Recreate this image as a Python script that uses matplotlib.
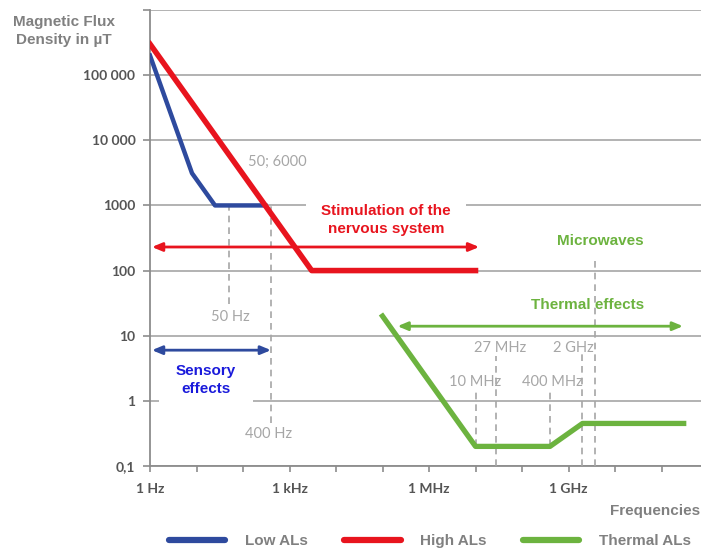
import numpy as np
import matplotlib
matplotlib.use("Agg")
import matplotlib.pyplot as plt
from matplotlib.lines import Line2D

# exposure limits (frequency in Hz, flux density in uT)
freq_low = [1, 8, 25, 300]
b_low = [2e5, 3125, 1000, 1000]
freq_high = [1, 3000, 1e7]
b_high = [3e5, 100, 100]
freq_th = [1e5, 1e7, 4e8, 2e9, 3e11]
b_th = [20, 0.2, 0.2, 0.45, 0.45]

# dashed markers: frequency, lower / upper end
dash_f = [50, 400, 1e7, 2.7e7, 4e8, 2e9, 3.7e9]
dash_lo = [31, 0.46, 0.2, 0.1, 0.2, 0.1, 0.1]
dash_hi = [1000, 1000, 1.6, 4.8, 1.6, 5.5, 160]

# gray marker labels: text, frequency, value
mark_txt = ["50 Hz", "400 Hz", "50; 6000", "10 MHz", "27 MHz", "400 MHz", "2 GHz"]
mark_f = [10**1.72, 10**2.54, 10**2.73, 10**6.99, 10**7.53, 10**8.65, 10**9.10]
mark_b = [10**1.284, 10**-0.506, 10**3.676, 10**0.296, 10**0.806, 10**0.296, 10**0.806]

yticks = [0.1, 1, 10, 100, 1000, 1e4, 1e5, 1e6]
ytick_labels = ["0,1", "1", "10", "100", "1000", "10 000", "100 000", ""]
xticks = [10**k for k in range(12)]
xtick_labels = {0: "1 Hz", 3: "1 kHz", 6: "1 MHz", 9: "1 GHz"}

BLUE = "#2E4A9E"
RED = "#E8141E"
GREEN = "#6CB33F"
GRAY = "#8c8c8c"
LGRAY = "#a6a6a6"
BOLD = "Liberation Sans"

fig = plt.figure(figsize=(7.01, 5.53), dpi=100)
ax = fig.add_axes([150/701, 1-466/553, 551/701, 456/553])
ax.set_xscale("log")
ax.set_yscale("log")
ax.set_xlim(1, 10**(551/46.5))
ax.set_ylim(0.1, 1e6)

ax.set_axisbelow(True)
ax.yaxis.grid(True, which="major", color=LGRAY, lw=1.2)
ax.xaxis.grid(False)
for s in ["top", "right"]:
    ax.spines[s].set_visible(False)
for s in ["left", "bottom"]:
    ax.spines[s].set_color(GRAY)
    ax.spines[s].set_linewidth(1.3)

ax.set_yticks(yticks)
ax.set_yticklabels(ytick_labels)
ax.yaxis.set_minor_locator(matplotlib.ticker.NullLocator())
ax.set_xticks(xticks)
ax.set_xticklabels([xtick_labels.get(k, "") for k in range(12)])
ax.xaxis.set_minor_locator(matplotlib.ticker.NullLocator())
ax.tick_params(axis="y", length=5, width=1.2, color=GRAY, pad=5.5)
ax.tick_params(axis="x", length=4.5, width=1.2, color=GRAY, pad=8)
for lab in ax.get_xticklabels() + ax.get_yticklabels():
    lab.set_fontfamily("Lato")
    lab.set_fontweight("bold")
    lab.set_fontsize(10)
    lab.set_color("#555555")

# limit curves
ax.plot(freq_low, b_low, color=BLUE, lw=3.2, zorder=4, solid_joinstyle="round")
ax.plot(freq_high, b_high, color=RED, lw=4.0, zorder=4, solid_joinstyle="round")
ax.plot(freq_th, b_th, color=GREEN, lw=3.8, zorder=4, solid_joinstyle="round")

# dashed markers
for f, lo, hi in zip(dash_f, dash_lo, dash_hi):
    ax.plot([f, f], [lo, hi], color=LGRAY, lw=1.2, ls=(0, (4, 3)), zorder=3)
for t, f, b in zip(mark_txt, mark_f, mark_b):
    ax.text(f, b, t, color=LGRAY, fontsize=10.5, family="Lato",
            ha="center", va="center", zorder=3)

# range arrows
def span(x0, x1, y, c):
    ax.annotate("", xy=(x1, y), xytext=(x0, y),
                arrowprops=dict(arrowstyle="<|-|>,head_length=0.6,head_width=0.25",
                                color=c, lw=2, shrinkA=0, shrinkB=0), zorder=5)

span(1.1, 1.2e7, 230, RED)
span(1.1, 400, 6, BLUE)
span(2.1e5, 2.9e11, 14, GREEN)

ax.text(10**5.08, 10**2.775, "Stimulation of the\nnervous system", color=RED,
        fontsize=11, family=BOLD, weight="bold", ha="center", va="center",
        linespacing=1.4, zorder=2,
        bbox=dict(boxstyle="square,pad=1.0", fc="white", ec="none"))
ax.text(10**1.20, 10**0.32, "Sensory\neffects", color="#1A1ADB",
        fontsize=11, family=BOLD, weight="bold", ha="center", va="center",
        linespacing=1.4, zorder=2,
        bbox=dict(boxstyle="square,pad=1.1", fc="white", ec="none"))
ax.text(10**9.68, 10**2.457, "Microwaves", color=GREEN, fontsize=11,
        family=BOLD, weight="bold", ha="center", va="center", zorder=3)
ax.text(10**9.40, 10**1.469, "Thermal effects", color=GREEN, fontsize=11,
        family=BOLD, weight="bold", ha="center", va="center", zorder=3)

# axis titles
fig.text(64/701, 1-31/553, "Magnetic Flux\nDensity in µT", color="#808080",
         fontsize=11, family=BOLD, weight="bold", ha="center", va="center",
         linespacing=1.4)
fig.text(700/701, 1-511/553, "Frequencies", color="#808080", fontsize=11,
         family=BOLD, weight="bold", ha="right", va="center")

# legend
handles = [Line2D([], [], color=c, lw=4.5, solid_capstyle="round") for c in (BLUE, RED, GREEN)]
leg = fig.legend(handles, ["Low ALs", "High ALs", "Thermal ALs"], loc="center",
                 bbox_to_anchor=(0.613, 1-541/553), ncol=3, frameon=False,
                 handlelength=3.7, handletextpad=1.25, columnspacing=2.4,
                 prop=dict(family=BOLD, weight="bold", size=11))
for t in leg.get_texts():
    t.set_color("#808080")

fig.savefig("out.png", dpi=100)
